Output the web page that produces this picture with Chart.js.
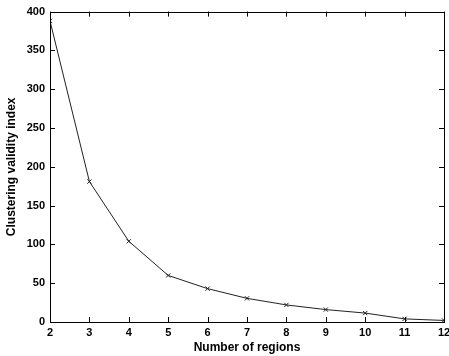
<!DOCTYPE html>
<html><head><meta charset="utf-8">
<script src="https://cdn.jsdelivr.net/npm/chart.js@4/dist/chart.umd.min.js"></script>
<style>html,body{margin:0;padding:0;background:#fff}#wrap{width:449px;height:356px}</style>
</head><body><div id="wrap"><canvas id="c" width="449" height="356"></canvas></div>
<script>
const regions = [2,3,4,5,6,7,8,9,10,11,12];
const validity = [388,181,104,60,43,30.5,22,16,11.5,4,2];
const yTicks = [0,50,100,150,200,250,300,350,400];
const xTitle = 'Number of regions';
const yTitle = 'Clustering validity index';

const font = {family:'"Liberation Sans", Arial, sans-serif', size:11, weight:'bold'};
const titleFont = {family:'"Liberation Sans", Arial, sans-serif', size:12, weight:'bold'};

const frame = {
  id:'frame',
  afterDraw(chart){
    const {ctx, chartArea:a, scales:{x,y}} = chart;
    ctx.save();
    ctx.strokeStyle='#000'; ctx.lineWidth=1;
    ctx.strokeRect(Math.round(a.left)+0.5, Math.round(a.top)+0.5, Math.round(a.right-a.left), Math.round(a.bottom-a.top));
    ctx.beginPath();
    const L=5;
    regions.forEach(v=>{const p=Math.round(x.getPixelForValue(v))+0.5;
      ctx.moveTo(p,a.bottom); ctx.lineTo(p,a.bottom-L);
      ctx.moveTo(p,a.top); ctx.lineTo(p,a.top+L);});
    yTicks.forEach(v=>{const p=Math.round(y.getPixelForValue(v))+0.5;
      ctx.moveTo(a.left,p); ctx.lineTo(a.left+L,p);
      ctx.moveTo(a.right,p); ctx.lineTo(a.right-L,p);});
    ctx.stroke();
    ctx.restore();
  }
};

new Chart(document.getElementById('c'), {
  type:'line',
  data:{datasets:[{
    data: regions.map((r,i)=>({x:r,y:validity[i]})),
    borderColor:'#222', borderWidth:1, tension:0,
    pointStyle:'crossRot', pointRadius:3, pointBorderColor:'#222', pointBorderWidth:1,
    fill:false
  }]},
  options:{
    responsive:false, animation:false,
    layout:{padding:{left:4,right:3,top:9,bottom:1}},
    plugins:{legend:{display:false}, tooltip:{enabled:false}},
    scales:{
      x:{type:'linear', min:2, max:12,
        afterBuildTicks(s){ s.ticks = regions.map(v=>({value:v})); },
        afterFit(s){ s.height=33; s.paddingRight=0; s.paddingLeft=0; },
        grid:{display:false, drawTicks:false}, border:{display:false},
        ticks:{color:'#000', font, padding:4, maxRotation:0, autoSkip:false},
        title:{display:true, text:xTitle, color:'#000', font:titleFont, padding:{top:1,bottom:0}}
      },
      y:{type:'linear', min:0, max:400,
        afterBuildTicks(s){ s.ticks = yTicks.map(v=>({value:v})); },
        afterFit(s){ s.width=46; },
        grid:{display:false, drawTicks:false}, border:{display:false},
        ticks:{color:'#000', font, padding:5},
        title:{display:true, text:yTitle, color:'#000', font:titleFont, padding:{top:0,bottom:4}}
      }
    }
  },
  plugins:[frame]
});
</script></body></html>
